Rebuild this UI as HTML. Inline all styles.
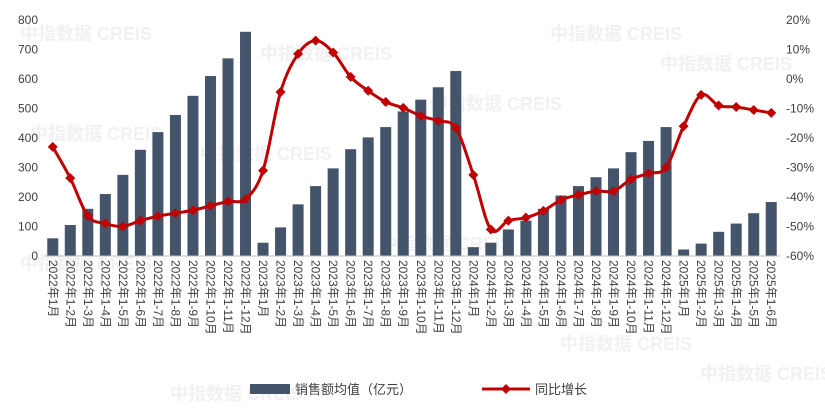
<!DOCTYPE html>
<html><head><meta charset="utf-8"><style>
body{margin:0;background:#fff;}
svg text{font-family:"Liberation Sans","Noto Sans CJK SC",sans-serif;fill:#404040;}
</style></head><body>
<svg id="c" width="825" height="409"></svg>
<script>
const categories=[];
for(const y of [2022,2023,2024]){for(let m=1;m<=12;m++)categories.push(y+'年'+(m===1?'1月':'1-'+m+'月'));}
for(let m=1;m<=6;m++)categories.push('2025年'+(m===1?'1月':'1-'+m+'月'));
const salesValues=[60,105,160,210,275,360,420,478,543,610,670,760,
45,97,175,237,297,362,402,437,490,530,572,627,
30,45,90,120,160,205,237,267,297,352,390,437,
22,42,82,110,145,183];
const yoyValues=[-23,-33.6,-46.4,-49,-50,-48,-46.5,-45.5,-44.5,-43,-41.5,-40.7,
-31,-4.4,8.5,13,9,0.7,-4,-7.8,-9.8,-12.5,-14.2,-16.6,
-32.5,-51,-48,-47,-44.7,-41,-39.3,-38,-38,-34,-32,-30,
-16,-5.4,-9,-9.5,-10.5,-11.5];
const leftTicks=[0,100,200,300,400,500,600,700,800];
const rightTicks=[-60,-50,-40,-30,-20,-10,0,10,20];
const NS='http://www.w3.org/2000/svg';
const svg=document.getElementById('c');
const X0=44,X1=780,Y0=256,Y1=20;
const step=(X1-X0)/categories.length;
const xC=i=>X0+step*(i+0.5);
const yL=v=>Y0-(v/800)*(Y0-Y1);
const yR=v=>Y0-((v+60)/80)*(Y0-Y1);
function el(t,a,txt){const e=document.createElementNS(NS,t);for(const k in a)e.setAttribute(k,a[k]);if(txt!==undefined)e.textContent=txt;svg.appendChild(e);return e;}
[[20,40],[260,60],[30,140],[200,160],[430,110],[550,40],[660,70],[20,270],[560,350],[700,380],[170,400],[380,250]].forEach(p=>{
const w=el('text',{x:p[0],y:p[1],'font-size':18,'font-weight':'bold',style:'fill:#f1f1f1'},'中指数据 CREIS');

});
leftTicks.forEach(v=>{const t=el('text',{x:38,y:yL(v)+4,'font-size':12,'text-anchor':'end'},v);

});
rightTicks.forEach(v=>{const t=el('text',{x:786,y:yR(v)+4,'font-size':12},v+'%');

});
salesValues.forEach((v,i)=>{const b=el('rect',{x:xC(i)-5.5,y:yL(v),width:11,height:Y0-yL(v),fill:'#44546a'});

});
const ax=el('line',{x1:X0,x2:X1,y1:Y0,y2:Y0,stroke:'#bfbfbf'});


const pts=yoyValues.map((v,i)=>[xC(i),yR(v)]);
let path='M'+pts[0];
for(let i=0;i<pts.length-1;i++){const p0=pts[i-1]||pts[i],p1=pts[i],p2=pts[i+1],p3=pts[i+2]||p2;
const c1=[p1[0]+(p2[0]-p0[0])/6,p1[1]+(p2[1]-p0[1])/6],c2=[p2[0]-(p3[0]-p1[0])/6,p2[1]-(p3[1]-p1[1])/6];
path+=' C'+c1+' '+c2+' '+p2;}
const ln=el('path',{d:path,fill:'none',stroke:'#c00000','stroke-width':3});


pts.forEach((p,i)=>{const m=el('path',{d:`M${p[0]},${p[1]-5}L${p[0]+5},${p[1]}L${p[0]},${p[1]+5}L${p[0]-5},${p[1]}Z`,fill:'#c00000'});

});
categories.forEach((c,i)=>{const t=el('text',{x:0,y:0,'font-size':12,transform:`translate(${xC(i)-4},${Y0+4}) rotate(90)`},c);

});
const lg=el('rect',{x:250,y:384,width:40,height:10,fill:'#44546a'});


const lt=el('text',{x:295,y:394,'font-size':13},'销售额均值（亿元）');


const ll=el('line',{x1:482,x2:530,y1:389,y2:389,stroke:'#c00000','stroke-width':3});


const lm=el('path',{d:'M506,384L511,389L506,394L501,389Z',fill:'#c00000'});


const lt2=el('text',{x:535,y:394,'font-size':13},'同比增长');


</script>
</body></html>
